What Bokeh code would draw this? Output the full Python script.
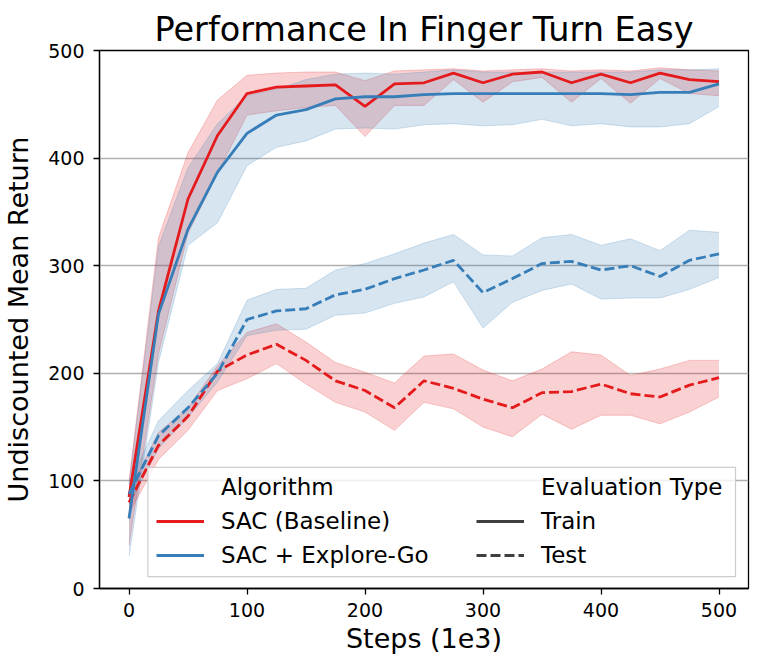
from bokeh.plotting import figure
from bokeh.models import Legend, LegendItem, Range1d, FixedTicker, ColumnDataSource, BoxAnnotation
from bokeh.embed import file_html
from bokeh.resources import INLINE

steps = [0, 25, 50, 75, 100, 125, 150, 175, 200, 225, 250, 275, 300, 325, 350, 375, 400, 425, 450, 475, 500]

sac_train = [85, 258, 362, 421, 460, 466, 467, 468, 448, 469, 470, 479, 470, 478, 480, 470, 478, 470, 479, 473, 471]
sac_train_lo = [40, 218, 330, 386, 440, 444, 447, 449, 420, 449, 449, 473, 452, 471, 475, 452, 474, 451, 474, 460, 458]
sac_train_hi = [100, 326, 405, 454, 477, 479, 480, 480, 472, 481, 482, 483, 481, 482, 483, 481, 482, 481, 484, 482, 481]

eg_train = [65, 255, 334, 387, 423, 440, 445, 455, 457, 457, 459, 460, 460, 460, 460, 460, 460, 459, 461, 461, 469]
eg_train_lo = [30, 210, 319, 340, 393, 410, 416, 427, 428, 427, 431, 432, 430, 431, 436, 430, 432, 429, 429, 432, 448]
eg_train_hi = [97, 318, 391, 432, 458, 464, 473, 478, 479, 478, 480, 482, 480, 480, 480, 480, 480, 480, 482, 482, 483]

sac_test = [80, 133, 160, 202, 217, 227, 212, 193, 184, 168, 193, 186, 176, 168, 182, 183, 190, 181, 178, 189, 196]
sac_test_lo = [70, 120, 147, 184, 195, 209, 190, 173, 164, 147, 173, 167, 150, 141, 162, 148, 161, 161, 153, 164, 178]
sac_test_hi = [90, 145, 168, 207, 238, 246, 229, 210, 201, 191, 216, 218, 203, 193, 204, 220, 217, 198, 204, 212, 212]

eg_test = [88, 142, 168, 200, 250, 258, 260, 273, 278, 288, 296, 305, 275, 288, 302, 304, 296, 300, 290, 305, 311]
eg_test_lo = [78, 130, 159, 192, 235, 240, 241, 254, 256, 265, 271, 285, 242, 266, 277, 283, 269, 270, 270, 278, 289]
eg_test_hi = [97, 156, 184, 209, 268, 278, 279, 296, 302, 311, 321, 329, 310, 309, 326, 329, 319, 325, 314, 333, 331]

x_ticks = [0, 100, 200, 300, 400, 500]
y_ticks = [0, 100, 200, 300, 400, 500]

algorithm_labels = ["SAC (Baseline)", "SAC + Explore-Go"]
eval_labels = ["Train", "Test"]

RED = "#e41a1c"
BLUE = "#377eb8"
GREY = "#3f3f3f"
FONT = "DejaVu Sans"

p = figure(width=753, height=660, output_backend="svg", toolbar_location=None,
           x_range=Range1d(-25, 525), y_range=Range1d(0, 500),
           min_border_left=97, min_border_right=5, min_border_top=50, min_border_bottom=72)

p.title.text = "Performance In Finger Turn Easy"
p.title.text_font = FONT
p.title.text_font_size = "33.5px"
p.title.text_font_style = "normal"
p.title.text_color = "black"
p.title.align = "center"
p.title.standoff = 4

p.outline_line_color = "black"
p.outline_line_width = 1.3
p.outline_line_alpha = 1.0

p.xgrid.visible = False
p.ygrid.ticker = FixedTicker(ticks=y_ticks)
p.ygrid.grid_line_color = "#b0b0b0"
p.ygrid.grid_line_width = 1.5

for ax in (p.xaxis[0], p.yaxis[0]):
    ax.axis_line_color = "black"
    ax.axis_line_width = 1.3
    ax.major_tick_line_color = "black"
    ax.major_tick_line_width = 1.3
    ax.major_tick_out = 6
    ax.major_tick_in = 0
    ax.minor_tick_line_color = None
    ax.major_label_text_font = FONT
    ax.major_label_text_font_size = "19px"
    ax.major_label_text_color = "black"
    ax.axis_label_text_font = FONT
    ax.axis_label_text_font_size = "27px"
    ax.axis_label_text_font_style = "normal"
    ax.axis_label_text_color = "black"

p.xaxis.ticker = FixedTicker(ticks=x_ticks)
p.yaxis.ticker = FixedTicker(ticks=y_ticks)
p.xaxis.axis_label = "Steps (1e3)"
p.yaxis.axis_label = "Undiscounted Mean Return"
p.xaxis.major_label_standoff = 8
p.yaxis.major_label_standoff = 9
p.xaxis.axis_label_standoff = 3
p.yaxis.axis_label_standoff = 11

bands = [
    (sac_train_lo, sac_train_hi, RED),
    (sac_test_lo, sac_test_hi, RED),
    (eg_train_lo, eg_train_hi, BLUE),
    (eg_test_lo, eg_test_hi, BLUE),
]
for lo, hi, col in bands:
    src = ColumnDataSource(dict(x=steps, lo=lo, hi=hi))
    p.varea(x="x", y1="lo", y2="hi", source=src, fill_color=col, fill_alpha=0.2)
    p.line(x="x", y="lo", source=src, line_color=col, line_alpha=0.22, line_width=1)
    p.line(x="x", y="hi", source=src, line_color=col, line_alpha=0.22, line_width=1)

lines = [
    (sac_train, RED, "solid"),
    (sac_test, RED, "10 4"),
    (eg_train, BLUE, "solid"),
    (eg_test, BLUE, "10 4"),
]
for ys, col, dash in lines:
    p.line(steps, ys, line_color=col, line_width=2.8, line_dash=dash)

# legend frame (white translucent box behind both legend columns)
box = BoxAnnotation(left=16, right=514, bottom=11, top=112.5,
                    fill_color="white", fill_alpha=0.8,
                    line_color="#cccccc", line_width=1.2, line_alpha=1.0)
p.add_layout(box)

def dummy(**kw):
    src = ColumnDataSource(dict(x=[float("nan")], y=[float("nan")]))
    return p.line(x="x", y="y", source=src, **kw)

hdr1 = dummy(line_alpha=0)
lr = dummy(line_color=RED, line_width=2.8)
lb = dummy(line_color=BLUE, line_width=2.8)
hdr2 = dummy(line_alpha=0)
lt = dummy(line_color=GREY, line_width=2.8)
ld = dummy(line_color=GREY, line_width=2.8, line_dash="10 4")

def make_legend(items, loc):
    lg = Legend(items=items, location=loc)
    lg.label_text_font = FONT
    lg.label_text_font_size = "23px"
    lg.label_text_color = "black"
    lg.glyph_width = 48
    lg.glyph_height = 28
    lg.label_height = 28
    lg.label_standoff = 17
    lg.spacing = 6
    lg.padding = 0
    lg.margin = 0
    lg.border_line_color = None
    lg.background_fill_color = None
    lg.background_fill_alpha = 0
    return lg

leg1 = make_legend([
    LegendItem(label="Algorithm", renderers=[hdr1]),
    LegendItem(label=algorithm_labels[0], renderers=[lr]),
    LegendItem(label=algorithm_labels[1], renderers=[lb]),
], (57, 19))
leg2 = make_legend([
    LegendItem(label="Evaluation Type", renderers=[hdr2]),
    LegendItem(label=eval_labels[0], renderers=[lt]),
    LegendItem(label=eval_labels[1], renderers=[ld]),
], (377, 19))
p.add_layout(leg1, "center")
p.add_layout(leg2, "center")

open("out.html", "w").write(file_html(p, INLINE))
